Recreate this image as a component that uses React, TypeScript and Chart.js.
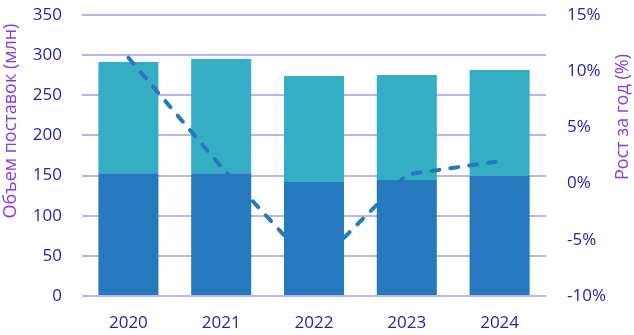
import React, { useEffect, useRef } from "react";
import { Chart, registerables } from "chart.js";

Chart.register(...registerables);

const categories = ["2020", "2021", "2022", "2023", "2024"];
const baseShipments = [153, 153, 142, 144.5, 149.5];
const extraShipments = [138.5, 142.2, 132, 130.8, 132];
const growthPct = [11.2, 1.5, -7.5, 0.8, 2.0];

const leftTitle = "Объем поставок (млн)";
const rightTitle = "Рост за год (%)";

const DARK = "#2779BD";
const CYAN = "#35AEC5";
const GRID = "#B9B5F5";
const TICK = "#2424AE";
const TITLE = "#8A3BE4";
const FONT = "'Open Sans', 'Noto Sans', sans-serif";

const titlePlugin = {
  id: "sideTitles",
  afterDraw(chart: any) {
    const ctx = chart.ctx;
    ctx.save();
    ctx.fillStyle = TITLE;
    ctx.font = `18px ${FONT}`;
    ctx.textAlign = "center";
    ctx.textBaseline = "middle";
    ctx.translate(11, 121);
    ctx.rotate(-Math.PI / 2);
    ctx.fillText(leftTitle, 0, 0);
    ctx.restore();
    ctx.save();
    ctx.fillStyle = TITLE;
    ctx.font = `18px ${FONT}`;
    ctx.textAlign = "center";
    ctx.textBaseline = "middle";
    ctx.translate(623, 117);
    ctx.rotate(-Math.PI / 2);
    ctx.fillText(rightTitle, 0, 0);
    ctx.restore();
  },
};

export default function App() {
  const ref = useRef<HTMLCanvasElement>(null);
  useEffect(() => {
    if (!ref.current) return;
    const chart = new Chart(ref.current, {
      type: "bar",
      data: {
        labels: categories,
        datasets: [
          {
            type: "line",
            data: growthPct,
            yAxisID: "y1",
            borderColor: DARK,
            borderWidth: 4,
            borderDash: [8, 11],
            borderCapStyle: "round",
            pointRadius: 0,
            tension: 0,
            fill: false,
            order: 0,
          } as any,
          {
            type: "bar",
            data: baseShipments,
            backgroundColor: DARK,
            yAxisID: "y",
            stack: "s",
            order: 1,
            categoryPercentage: 1,
            barPercentage: 0.647,
          },
          {
            type: "bar",
            data: extraShipments,
            backgroundColor: CYAN,
            yAxisID: "y",
            stack: "s",
            order: 1,
            categoryPercentage: 1,
            barPercentage: 0.647,
          },
        ],
      },
      options: {
        responsive: false,
        animation: false,
        layout: { padding: { top: 0, left: 0, right: 0, bottom: 0 } },
        plugins: { legend: { display: false }, tooltip: { enabled: false } },
        scales: {
          x: {
            stacked: true,
            grid: { display: false, drawTicks: false },
            border: { display: false },
            ticks: { color: TICK, font: { family: FONT, size: 17 }, padding: 17 },
            afterFit: (s: any) => {
              s.height = 39;
            },
          },
          y: {
            stacked: true,
            position: "left",
            min: 0,
            max: 350,
            grid: { color: GRID, lineWidth: 2, drawTicks: false },
            border: { display: false },
            ticks: { stepSize: 50, color: TICK, font: { family: FONT, size: 17 }, padding: 20 },
            afterFit: (s: any) => {
              s.width = 82;
              s.paddingTop = 15;
              s.paddingBottom = 10;
            },
          },
          y1: {
            position: "right",
            min: -10,
            max: 15,
            grid: { display: false, drawTicks: false },
            border: { display: false },
            ticks: {
              stepSize: 5,
              color: TICK,
              font: { family: FONT, size: 17 },
              padding: 21,
              callback: (v: any) => `${v}%`,
            },
            afterFit: (s: any) => {
              s.width = 88;
              s.paddingTop = 15;
              s.paddingBottom = 10;
            },
          },
        },
      },
      plugins: [titlePlugin],
    });
    return () => chart.destroy();
  }, []);
  return (
    <div style={{ position: "fixed", left: 0, top: 0, width: 634, height: 335, background: "#fff" }}>
      <canvas ref={ref} width={634} height={335} style={{ display: "block" }} />
    </div>
  );
}
